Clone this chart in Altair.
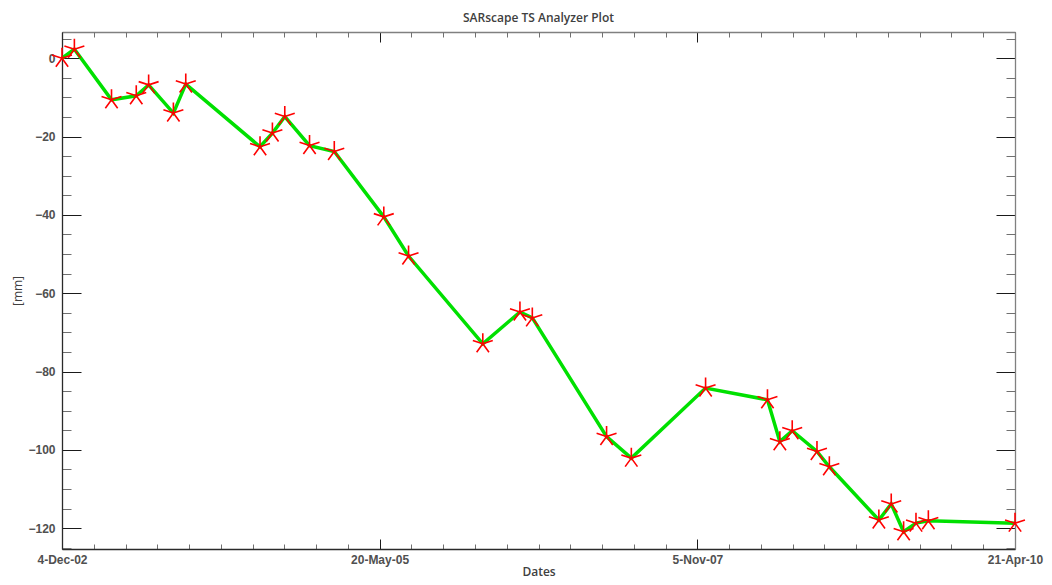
import altair as alt
import pandas as pd

# ---- data ----
dates = [
    "2002-12-04", "2003-01-08", "2003-04-23", "2003-07-02", "2003-08-06",
    "2003-10-15", "2003-11-19", "2004-06-16", "2004-07-21", "2004-08-25",
    "2004-11-03", "2005-01-12", "2005-06-01", "2005-08-10", "2006-03-08",
    "2006-06-21", "2006-07-26", "2007-02-21", "2007-05-02", "2007-11-28",
    "2008-05-21", "2008-06-25", "2008-07-30", "2008-10-08", "2008-11-12",
    "2009-04-01", "2009-05-06", "2009-06-10", "2009-07-15", "2009-08-19",
    "2010-04-21",
]
values = [
    0.0, 2.3, -10.6, -9.6, -6.8,
    -14.0, -6.6, -22.6, -19.1, -14.9,
    -22.3, -23.8, -40.5, -50.5, -72.9,
    -64.8, -66.3, -96.6, -102.1, -84.2,
    -87.2, -97.9, -95.1, -100.4, -104.3,
    -117.9, -113.8, -120.9, -118.7, -118.1,
    -118.7,
]
x_major = ["2002-12-04", "2005-05-20", "2007-11-05", "2010-04-21"]
y_major = [0, -20, -40, -60, -80, -100, -120]
y_minor = [5, -5, -10, -15, -25, -30, -35, -45, -50, -55, -65, -70, -75,
           -85, -90, -95, -105, -110, -115, -125]
y_domain = [-125.3, 6.7]
chart_title = "SARscape TS Analyzer Plot"
x_title = "Dates"
y_title = "[mm]"

W, H = 953, 517


def ms(s):
    return int(pd.Timestamp(s, tz="UTC").timestamp() * 1000)


major_ms = [ms(d) for d in x_major]
minor_ms = []
for a, b in zip(major_ms[:-1], major_ms[1:]):
    for k in range(1, 10):
        minor_ms.append(a + (b - a) * k / 10.0)

df = pd.DataFrame({"date": dates, "value": values})
base = alt.Chart(df)

xscale = alt.Scale(type="utc", domain=[major_ms[0], major_ms[-1]], nice=False)
yscale = alt.Scale(domain=y_domain, nice=False, zero=False)

LABEL_FONT = "Liberation Sans"
TITLE_FONT = "Open Sans"


def enc(xaxis, yaxis):
    return dict(
        x=alt.X("date:T", scale=xscale, axis=xaxis),
        y=alt.Y("value:Q", scale=yscale, axis=yaxis),
    )


def xtick_axis(orient, vals, size, color, domain=False):
    kw = dict(orient=orient, offset=-H, values=vals, tickSize=size,
              tickColor=color, tickWidth=1, labels=False, domain=domain,
              title=None, grid=False)
    if domain:
        kw.update(domainColor="#808080", domainWidth=1.3)
    return alt.Axis(**kw)


def ytick_axis(orient, vals, size, color, domain=False):
    kw = dict(orient=orient, offset=-W, values=vals, tickSize=size,
              tickColor=color, tickWidth=1, labels=False, domain=domain,
              title=None, grid=False)
    if domain:
        kw.update(domainColor="#808080", domainWidth=1.3)
    return alt.Axis(**kw)


# inward ticks: bottom/left sides (axes flipped and moved across the plot)
t1 = base.mark_point(opacity=0, size=1).encode(
    **enc(xtick_axis("top", major_ms, 10, "#1a1a1a"),
          ytick_axis("right", y_major, 19, "#1a1a1a")))
t2 = base.mark_point(opacity=0, size=1).encode(
    **enc(xtick_axis("top", minor_ms, 5, "#707070"),
          ytick_axis("right", y_minor, 9, "#707070")))
# inward ticks: top/right sides
t3 = base.mark_point(opacity=0, size=1).encode(
    **enc(xtick_axis("bottom", major_ms, 10, "#1a1a1a", domain=True),
          ytick_axis("left", y_major, 19, "#1a1a1a", domain=True)))
t4 = base.mark_point(opacity=0, size=1).encode(
    **enc(xtick_axis("bottom", minor_ms, 5, "#707070"),
          ytick_axis("left", y_minor, 9, "#707070")))

x_main = alt.Axis(
    orient="bottom", values=major_ms,
    labelExpr="utcFormat(datum.value, '%-d-%b-%y')",
    ticks=False, tickSize=0, domain=True, domainColor="#2a2a2a", domainWidth=1.3,
    labelFont=LABEL_FONT, labelFontWeight="bold", labelFontSize=12,
    labelColor="#505050", labelPadding=5, labelFlush=False, labelOverlap=False,
    title=x_title, titleFont=TITLE_FONT, titleFontSize=12, titleFontWeight=600,
    titleColor="#404040", titlePadding=1, grid=False,
)
y_main = alt.Axis(
    orient="left", values=y_major, format="d",
    ticks=False, tickSize=0, domain=True, domainColor="#2a2a2a", domainWidth=1.3,
    labelFont=LABEL_FONT, labelFontWeight="bold", labelFontSize=12,
    labelColor="#505050", labelPadding=7, labelOverlap=False,
    title=y_title, titleFont=TITLE_FONT, titleFontSize=12, titleFontWeight="normal",
    titleColor="#404040", titlePadding=3, grid=False,
)

line = base.mark_line(color="#00e000", strokeWidth=3.5).encode(**enc(x_main, y_main))

star_path = ("M0,0L0,-1M0,0L0.951,-0.309M0,0L-0.951,-0.309"
             "M0,0L0.588,0.809M0,0L-0.588,0.809")
stars = base.mark_point(shape=star_path, filled=False, stroke="#ff0000",
                        strokeWidth=1.6, size=440, opacity=1).encode(
    x=alt.X("date:T", scale=xscale, axis=None),
    y=alt.Y("value:Q", scale=yscale, axis=None),
)

chart = alt.layer(t1, t2, t3, t4, line, stars).resolve_axis(
    x="independent", y="independent"
).properties(
    width=W, height=H,
    title=alt.TitleParams(text=chart_title, font=TITLE_FONT, fontSize=12,
                          fontWeight=600, color="#404040", anchor="middle",
                          frame="group", baseline="bottom", offset=9, dy=14),
    autosize=alt.AutoSizeParams(type="none"),
    padding={"left": 54, "top": 24, "right": 29, "bottom": 30},
).configure_view(stroke=None).configure(background="white")

chart.save("out.html", embed_options={"renderer": "svg", "actions": False})
